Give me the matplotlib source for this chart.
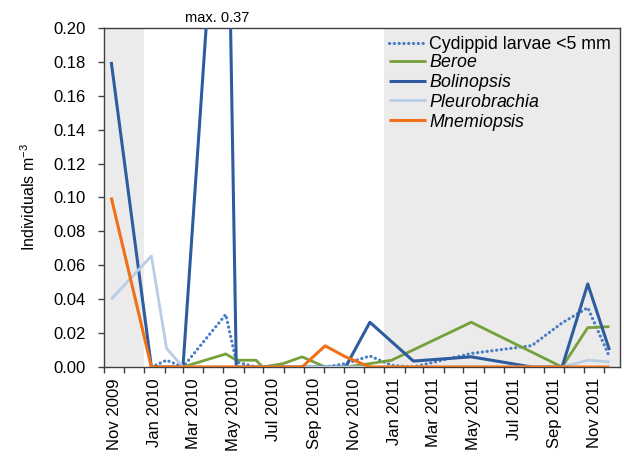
import matplotlib
matplotlib.use("Agg")
import matplotlib.pyplot as plt
import matplotlib.dates as mdates
import numpy as np
import pandas as pd

plt.rcParams['font.family'] = ['Liberation Sans', 'DejaVu Sans']
plt.rcParams['mathtext.fontset'] = 'custom'
plt.rcParams['mathtext.rm'] = 'Liberation Sans'
plt.rcParams['mathtext.it'] = 'Liberation Sans:italic'

# ---------------- data ----------------
sample_dates = ["2009-11-12", "2010-01-12", "2010-02-04", "2010-03-01", "2010-05-05",
                "2010-05-21", "2010-06-20", "2010-06-30", "2010-07-31", "2010-08-29",
                "2010-10-03", "2010-11-03", "2010-12-10", "2011-01-12", "2011-02-14",
                "2011-05-13", "2011-08-13", "2011-09-28", "2011-11-06", "2011-12-09"]

N = None
cydippid = [N, 0.0, 0.004, 0.0, 0.031, 0.003, 0.0, 0.0, 0.0, 0.0,
            0.0, 0.002, 0.0065, 0.001, 0.0, 0.008, 0.0126, 0.026, 0.035, 0.006]
beroe = [N, N, N, 0.0, 0.0077, 0.004, 0.004, 0.0, 0.002, 0.006,
         0.0, 0.0, 0.002, 0.004, N, 0.0264, N, 0.0, 0.0232, 0.0238]
bolinopsis = [0.18, 0.0, 0.0, 0.0, 0.37, 0.0, 0.0, 0.0, 0.0, 0.0,
              0.0, 0.0, 0.0264, N, 0.0035, 0.006, 0.0, 0.0, 0.049, 0.010]
pleurobrachia = [0.04, 0.0655, 0.011, 0.0, 0.0, 0.0, 0.0, 0.0, 0.0, 0.0,
                 0.0, 0.0, 0.0, 0.0, 0.0, 0.0, 0.0, 0.0, 0.004, 0.003]
mnemiopsis = [0.10, 0.0, 0.0, 0.0, 0.0, 0.0, 0.0, 0.0, 0.0, 0.0,
              0.0125, 0.006, 0.0, 0.0, 0.0, 0.0, 0.0, 0.0, 0.0, 0.0]

series_names = ["Cydippid larvae <5 mm", "$\\it{Beroe}$", "$\\it{Bolinopsis}$",
                "$\\it{Pleurobrachia}$", "$\\it{Mnemiopsis}$"]
series_values = [cydippid, beroe, bolinopsis, pleurobrachia, mnemiopsis]

x_labels = ["Nov 2009", "Jan 2010", "Mar 2010", "May 2010", "Jul 2010", "Sep 2010",
            "Nov 2010", "Jan 2011", "Mar 2011", "May 2011", "Jul 2011", "Sep 2011",
            "Nov 2011"]
y_ticks = [0.00, 0.02, 0.04, 0.06, 0.08, 0.10, 0.12, 0.14, 0.16, 0.18, 0.20]

shade_periods = [("2009-11-01", "2010-01-01"), ("2011-01-01", "2011-12-25")]
x_range = ("2009-11-01", "2011-12-25")

# ---------------- styles ----------------
colors = ["#4a7ec4", "#76a03a", "#2e5c9e", "#b7cde6", "#f07018"]
styles = [(0, (0.05, 1.45)), "-", "-", "-", "-"]
widths = [2.3, 2.0, 2.2, 2.0, 2.2]

fig = plt.figure(figsize=(6.24, 4.59), dpi=100)
ax = fig.add_axes([104/624, 1-367/459, 516/624, 339/459])

xl = mdates.date2num(pd.to_datetime(list(x_range)))
ax.set_xlim(xl[0], xl[1])
ax.set_ylim(0, 0.20)

for a, b in shade_periods:
    ax.axvspan(mdates.date2num(pd.Timestamp(a)), mdates.date2num(pd.Timestamp(b)),
               color="#ebebeb", lw=0, zorder=0)

xd = mdates.date2num(pd.to_datetime(sample_dates))
for name, vals, c, ls, lw in zip(series_names, series_values, colors, styles, widths):
    v = np.array([np.nan if t is None else t for t in vals], dtype=float)
    m = ~np.isnan(v)
    ax.plot(xd[m], v[m], color=c, ls=ls, lw=lw, label=name,
            solid_capstyle='butt', dash_capstyle='round', zorder=3)

# max annotation for Bolinopsis
bv = np.array([np.nan if t is None else t for t in bolinopsis], dtype=float)
imax = int(np.nanargmax(bv))
ax.annotate(f"max. {bv[imax]:.2f}", xy=(xd[imax], 0.20), xytext=(-6, 2),
            textcoords="offset points", ha="center", va="bottom", fontsize=10.5,
            annotation_clip=False)

# axes styling
for s in ax.spines.values():
    s.set_color("#404040")
    s.set_linewidth(1.0)

month_starts = pd.date_range("2009-11-01", "2011-12-01", freq="MS")
ax.set_xticks(mdates.date2num(month_starts))
ax.set_xticklabels([])
label_pos = [pd.to_datetime(l, format="%b %Y") + pd.Timedelta(days=16) for l in x_labels]
ax.set_xticks(mdates.date2num(label_pos), minor=True)
ax.set_xticklabels(x_labels, minor=True, rotation=90, fontsize=12)
ax.tick_params(axis='x', which='major', direction='out', length=4, width=1, color="#404040")
ax.tick_params(axis='x', which='minor', length=0, pad=8)

ax.set_yticks(y_ticks)
ax.set_yticklabels([f"{t:.2f}" for t in y_ticks], fontsize=12)
ax.tick_params(axis='y', direction='out', length=4, width=1, color="#404040", pad=9)
ax.set_ylabel("Individuals m$^{-3}$", fontsize=11.5, labelpad=11)

leg = ax.legend(loc="upper left", bbox_to_anchor=((381-104)/516, 1.0), frameon=False,
                fontsize=12.8, handlelength=2.1, handletextpad=0.15, labelspacing=0.05,
                borderpad=0.45, borderaxespad=0.0)

fig.savefig("out.png", dpi=100)
